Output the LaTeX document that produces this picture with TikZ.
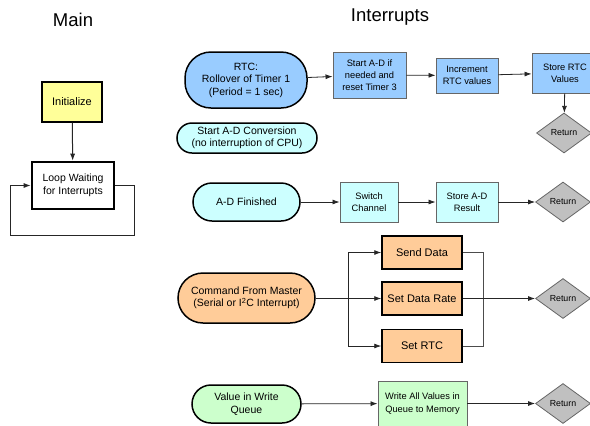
\documentclass[tikz,border=0pt]{standalone}
\usepackage{fontspec}
\setmainfont{Liberation Sans}
\usetikzlibrary{shapes.geometric,arrows.meta}
\definecolor{cblue}{HTML}{99CCFF}
\definecolor{ccyan}{HTML}{CCFFFF}
\definecolor{corange}{HTML}{FFCC99}
\definecolor{cgreen}{HTML}{CCFFCC}
\definecolor{cyellow}{HTML}{FFFF99}
\definecolor{cgray}{HTML}{C0C0C0}
\begin{document}
\begin{tikzpicture}[x=1bp,y=-1bp,
  pill/.style={draw=black, line width=1.5bp, align=center, inner sep=0pt, font=\fontsize{10.5bp}{12.5bp}\selectfont},
  box/.style={draw=black!60, line width=0.9bp, align=center, inner sep=0pt, font=\fontsize{9.3bp}{12.3bp}\selectfont},
  obox/.style={draw=black, line width=1.5bp, fill=corange, align=center, inner sep=0pt, minimum width=80bp, minimum height=33bp, font=\fontsize{11bp}{13bp}\selectfont},
  ret/.style={diamond, draw=black!60, line width=0.8bp, fill=cgray, inner sep=0pt, minimum width=55bp, minimum height=40bp, font=\fontsize{8.8bp}{10bp}\selectfont},
  arr/.style={-{Latex[length=7bp,width=5bp]}, line width=0.8bp, draw=black!85},
  ln/.style={line width=0.8bp, draw=black!70},
  title/.style={font=\fontsize{18.5bp}{20bp}\selectfont, inner sep=0pt}
]
\clip (0,0) rectangle (590,425);
\fill[white] (0,0) rectangle (590,425);

\node[title] (tmain) at (73,20) {Main};
\node[title] (tint) at (390,17) {Interrupts};

% Main
\node[draw=black, line width=1.3bp, fill=cyellow, minimum width=60bp, minimum height=40bp, inner sep=0pt, font=\fontsize{11bp}{13bp}\selectfont] (init) at (72,102) {Initialize};
\node[draw=black, line width=2.6bp, fill=white, minimum width=82bp, minimum height=47bp, inner sep=0pt, align=center, font=\fontsize{10.5bp}{13bp}\selectfont] (loop) at (73,185.5) {Loop Waiting\\for Interrupts};
\draw[arr, line width=1bp] (init) -- (loop);
\draw[arr, line width=1bp] (loop.east) -- ++(19,0) -- ++(0,50) -- ++(-124,0) -- ++(0,-50) -- (loop.west);

% RTC row
\node[pill, fill=cblue, minimum width=122bp, minimum height=56bp, rounded corners=26bp] (rtc) at (246,80) {RTC:\\Rollover of Timer 1\\(Period = 1 sec)};
\node[box, fill=cblue, minimum width=73bp, minimum height=46bp] (startad) at (369.5,75) {Start A-D if\\needed and\\reset Timer 3};
\node[box, fill=cblue, minimum width=62bp, minimum height=35bp] (incr) at (467,75.5) {Increment\\RTC values};
\node[box, fill=cblue, minimum width=66bp, minimum height=40bp] (storertc) at (565,73) {Store RTC\\Values};
\node[ret] (ret1) at (564,133) {Return};
\draw[arr] (rtc) -- (startad);
\draw[arr] (startad) -- (incr);
\draw[arr] (incr) -- (storertc);
\draw[arr] (storertc) -- (ret1);

% Start A-D conversion
\node[pill, fill=ccyan, minimum width=140bp, minimum height=30bp, rounded corners=15bp] (conv) at (247,138) {Start A-D Conversion\\(no interruption of CPU)};

% A-D finished row
\node[pill, fill=ccyan, minimum width=107bp, minimum height=38bp, rounded corners=19bp] (adf) at (246.5,202) {A-D Finished};
\node[box, fill=ccyan, minimum width=58bp, minimum height=40bp] (switch) at (369,202) {Switch\\Channel};
\node[box, fill=ccyan, minimum width=62bp, minimum height=40bp] (storead) at (467,202) {Store A-D\\Result};
\node[ret] (ret2) at (563,202) {Return};
\draw[arr] (adf) -- (switch);
\draw[arr] (switch) -- (storead);
\draw[arr] (storead) -- (ret2);

% Command row
\node[pill, fill=corange, minimum width=137bp, minimum height=50bp, rounded corners=25bp] (cmd) at (246.5,298) {Command From Master\\(Serial or I\textsuperscript{2}C Interrupt)};
\node[obox] (send) at (422,252.5) {Send Data};
\node[obox] (rate) at (422,298.5) {Set Data Rate};
\node[obox] (setrtc) at (422,346) {Set RTC};
\node[ret] (ret3) at (563,298.5) {Return};
\coordinate (br) at (348,298.5);
\coordinate (mg) at (483,298.5);
\draw[arr] (cmd.east |- rate) -- (rate.west);
\draw[arr] (br) |- (send.west);
\draw[arr] (br) |- (setrtc.west);
\draw[ln] (send.east) -| (mg);
\draw[ln] (setrtc.east) -| (mg);
\draw[arr] (rate.east) -- (ret3.west);

% Queue row
\node[pill, fill=cgreen, minimum width=109bp, minimum height=38bp, rounded corners=19bp] (queue) at (246.5,404) {Value in Write\\Queue};
\node[box, fill=cgreen, minimum width=89bp, minimum height=45bp] (write) at (422.5,403.5) {Write All Values in\\Queue to Memory};
\node[ret] (ret4) at (563,403.5) {Return};
\draw[arr] (queue) -- (write);
\draw[arr] (write) -- (ret4);
\end{tikzpicture}
\end{document}
